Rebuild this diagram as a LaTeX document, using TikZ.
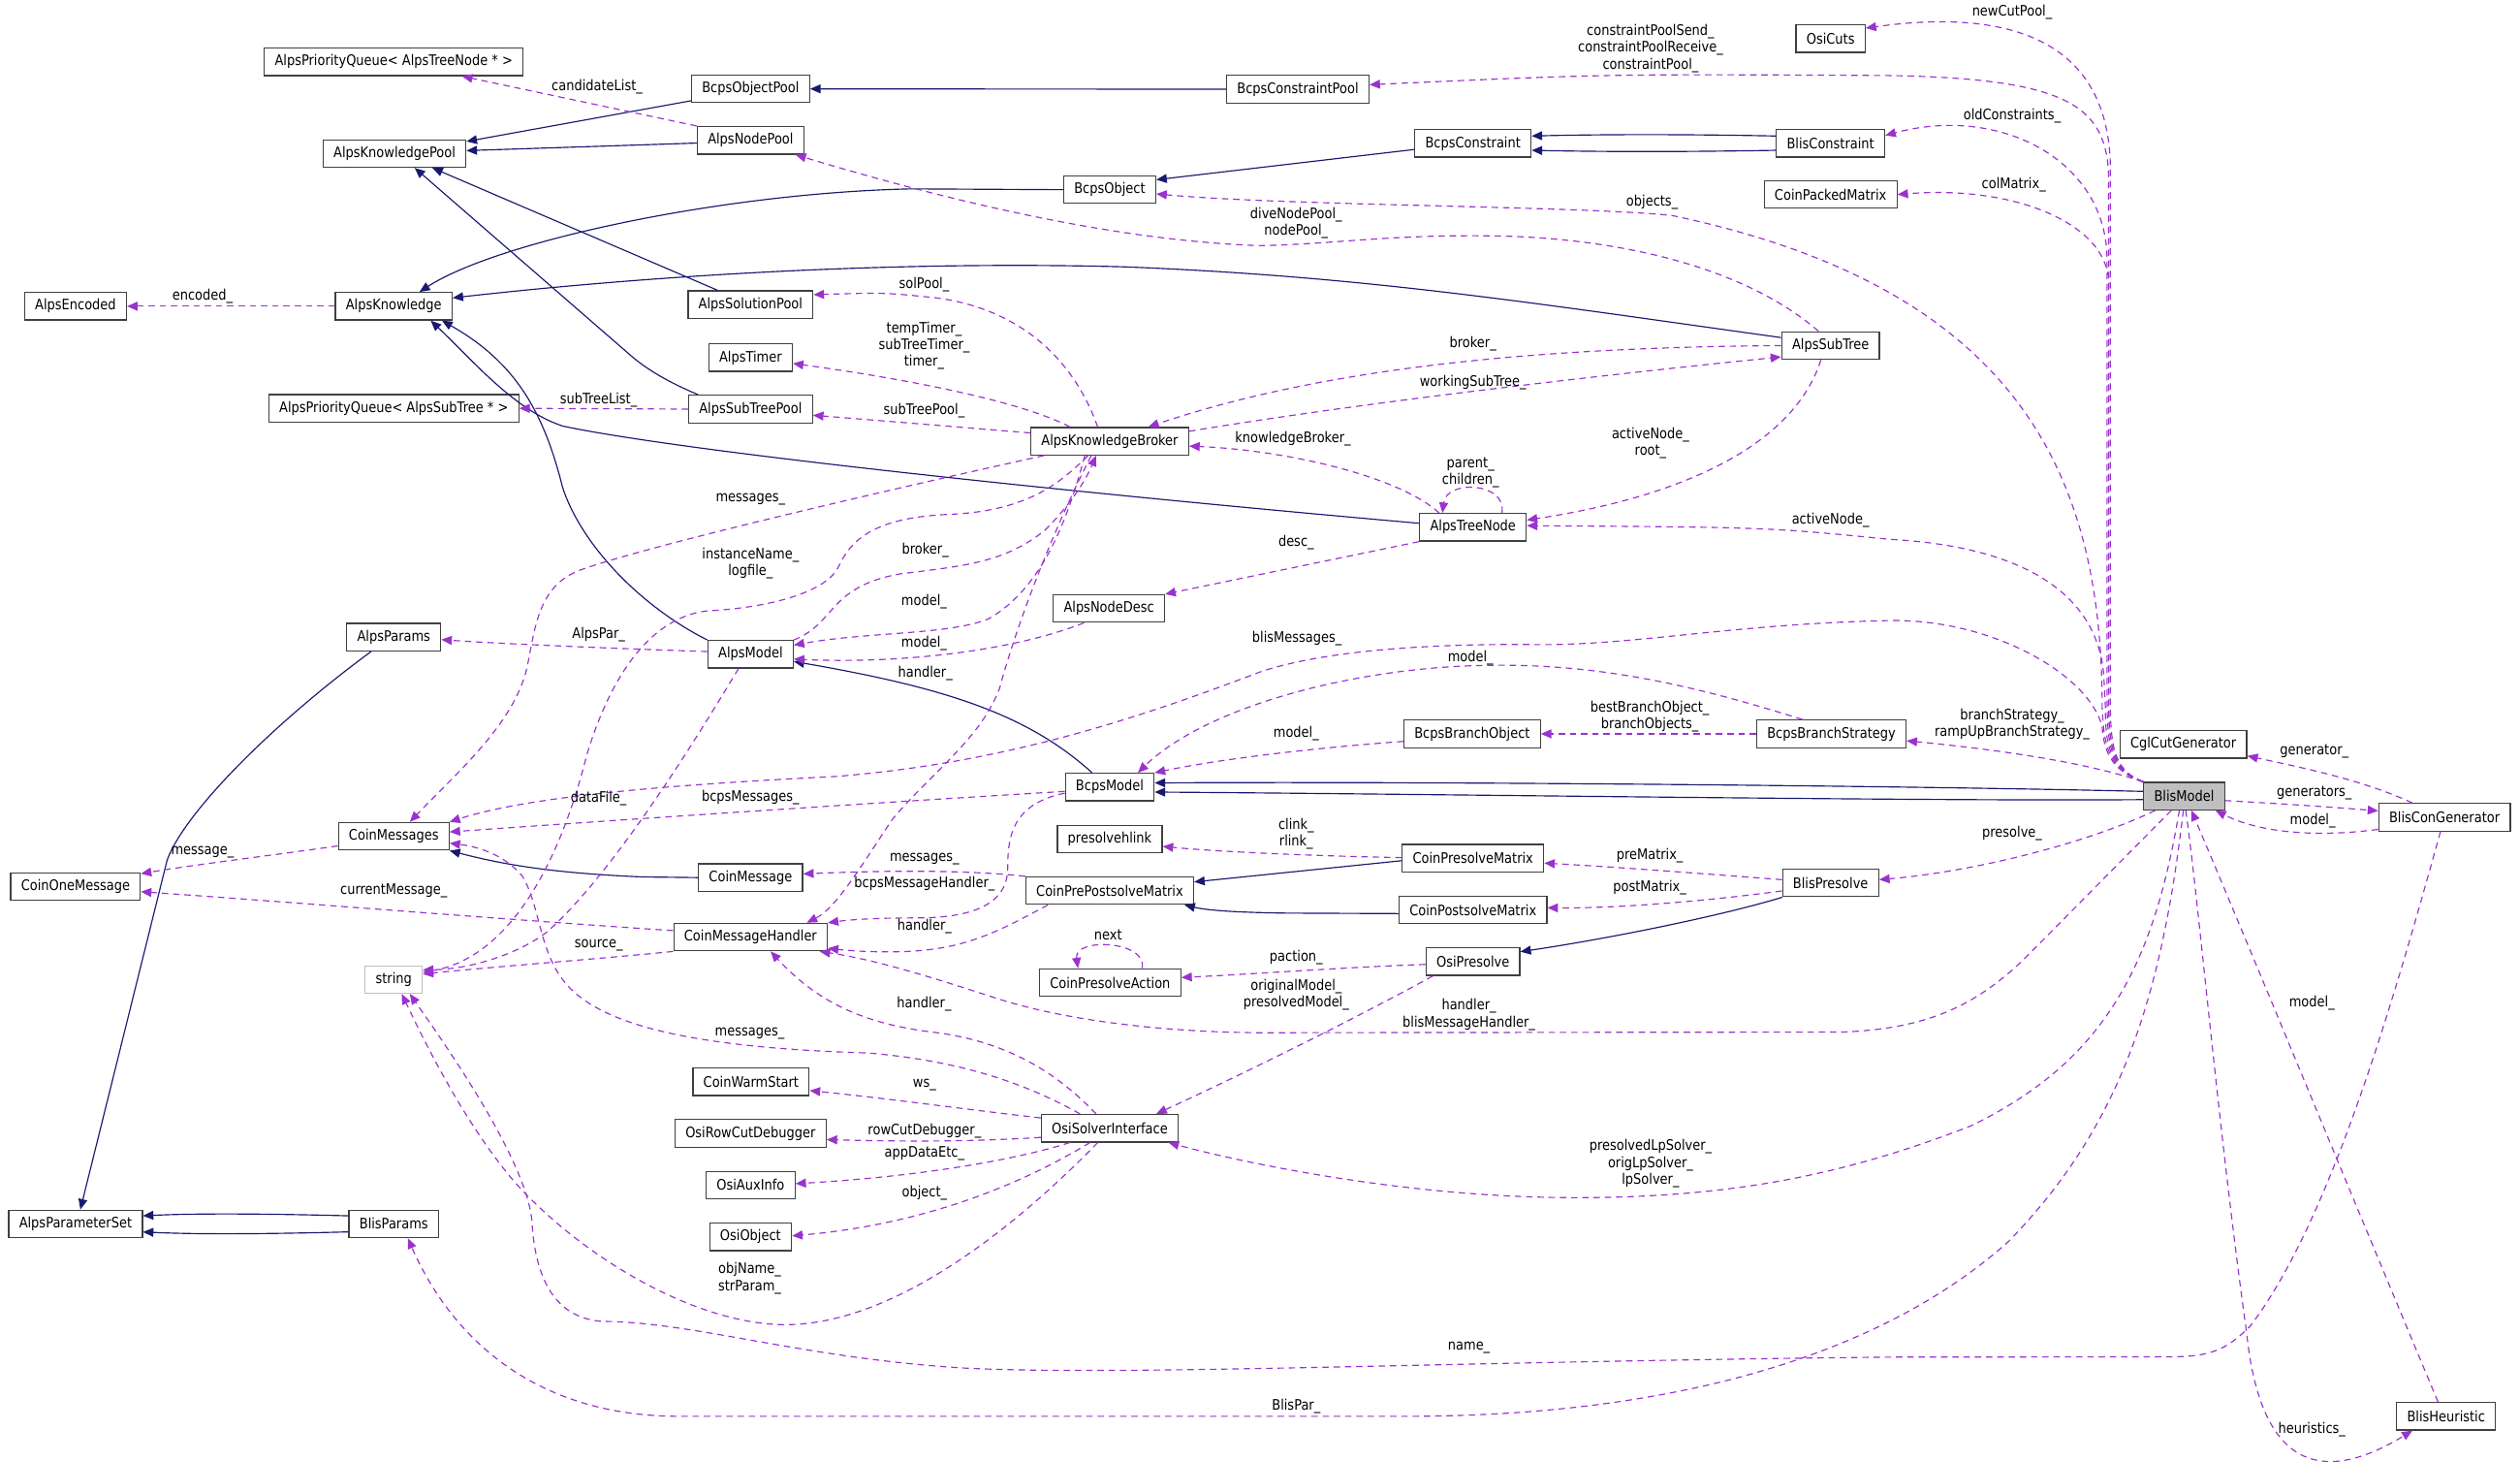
\documentclass[tikz,border=0pt]{standalone}
\usepackage{fontspec}
\setmainfont{DejaVu Sans}[FakeStretch=0.87]
\usetikzlibrary{arrows.meta}
\definecolor{inhc}{HTML}{191970}
\definecolor{usec}{HTML}{9A32CD}
\tikzset{
 cls/.style={draw=black!75, line width=0.75pt, fill=white, minimum height=17.1pt, inner xsep=6.5pt, inner ysep=0pt, font=\fontsize{9}{10.4}\selectfont},
 extcls/.style={cls, draw=black!25},
 maincls/.style={cls, fill=black!25},
 lbl/.style={font=\fontsize{9}{10.4}\selectfont, align=center, inner sep=0pt},
 inherit/.style={draw=inhc, line width=0.7pt, -{Triangle[length=6.5pt,width=5.5pt]}},
 usage/.style={draw=usec, line width=0.7pt, dash pattern=on 4pt off 3pt, -{Triangle[length=6.5pt,width=5.5pt]}},
}
\begin{document}
\begin{tikzpicture}[x=1pt,y=-1pt]
\fill[white] (0,0) rectangle (1568,909);
\useasboundingbox (0,0) rectangle (1568,909);
% ---------------- nodes
\node[cls] (pqTN) at (245,38.5) {AlpsPriorityQueue< AlpsTreeNode * >};
\node[cls] (bcpsObjPool) at (467,55.3) {BcpsObjectPool};
\node[cls] (bcpsConPool) at (807.5,55.5) {BcpsConstraintPool};
\node[cls] (osiCuts) at (1139,24) {OsiCuts};
\node[cls] (akPool) at (245.5,95.5) {AlpsKnowledgePool};
\node[cls] (nodePool) at (467,87.3) {AlpsNodePool};
\node[cls] (bcpsCon) at (916.5,89.2) {BcpsConstraint};
\node[cls] (blisCon) at (1139,89.2) {BlisConstraint};
\node[cls] (bcpsObj) at (690.5,118) {BcpsObject};
\node[cls] (packed) at (1139,121) {CoinPackedMatrix};
\node[cls] (encoded) at (47,190.5) {AlpsEncoded};
\node[cls] (know) at (245,190.5) {AlpsKnowledge};
\node[cls] (solPool) at (467,189.5) {AlpsSolutionPool};
\node[cls] (timer) at (467,222.5) {AlpsTimer};
\node[cls] (subTree) at (1139,215) {AlpsSubTree};
\node[cls] (pqST) at (245,254) {AlpsPriorityQueue< AlpsSubTree * >};
\node[cls] (stPool) at (467,254.5) {AlpsSubTreePool};
\node[cls] (broker) at (690.5,274.5) {AlpsKnowledgeBroker};
\node[cls] (treeNode) at (916.5,328) {AlpsTreeNode};
\node[cls] (nodeDesc) at (690,378.5) {AlpsNodeDesc};
\node[cls] (params) at (245,396.3) {AlpsParams};
\node[cls] (model) at (467,407) {AlpsModel};
\node[cls] (brObj) at (916,456.5) {BcpsBranchObject};
\node[cls] (brStrat) at (1139.5,456.5) {BcpsBranchStrategy};
\node[cls] (cgl) at (1358.5,463) {CglCutGenerator};
\node[maincls] (blisModel) at (1359,495.2) {BlisModel};
\node[cls] (conGen) at (1521,508.4) {BlisConGenerator};
\node[cls] (bcpsModel) at (690.5,489.6) {BcpsModel};
\node[cls] (messages) at (245,520.2) {CoinMessages};
\node[cls] (hlink) at (690.5,522) {presolvehlink};
\node[cls] (oneMsg) at (47,551.5) {CoinOneMessage};
\node[cls] (coinMsg) at (467,545.9) {CoinMessage};
\node[cls] (preMat) at (916.5,533.9) {CoinPresolveMatrix};
\node[cls] (prePost) at (690.5,554) {CoinPrePostsolveMatrix};
\node[cls] (blisPre) at (1139,549.2) {BlisPresolve};
\node[cls] (postMat) at (916.5,566) {CoinPostsolveMatrix};
\node[cls] (handler) at (467,582.9) {CoinMessageHandler};
\node[extcls] (string) at (245,609.3) {string};
\node[cls] (action) at (690.75,611.2) {CoinPresolveAction};
\node[cls] (osiPre) at (916.5,598.2) {OsiPresolve};
\node[cls] (warm) at (467.3,672.9) {CoinWarmStart};
\node[cls] (osi) at (690.5,701.8) {OsiSolverInterface};
\node[cls] (rowCut) at (467,705) {OsiRowCutDebugger};
\node[cls] (aux) at (467,737.2) {OsiAuxInfo};
\node[cls] (osiObj) at (467,769.4) {OsiObject};
\node[cls] (paramSet) at (47,761.3) {AlpsParameterSet};
\node[cls] (blisParams) at (245,761.3) {BlisParams};
\node[cls] (heur) at (1522,881) {BlisHeuristic};
% ---------------- inheritance edges
\draw[inherit] ([yshift=-7.4pt]bcpsObjPool.west) -- ([yshift=7.5pt]akPool.east);
\draw[inherit] ([yshift=-1.7pt]nodePool.west) -- ([yshift=1.8pt]akPool.east);
\draw[inherit] ([xshift=-20.5pt]solPool.north) -- ([xshift=23.5pt]akPool.south);
\draw[inherit] ([xshift=-32.5pt]stPool.north) .. controls (412,236) and (400,228) .. (390,219) -- ([xshift=12.5pt]akPool.south);
\draw[inherit] (bcpsConPool.west) -- (bcpsObjPool.east);
\draw[inherit] ([yshift=-3.8pt]bcpsCon.west) -- ([yshift=6.2pt]bcpsObj.east);
\draw[inherit] ([yshift=4.6pt]blisCon.west) .. controls (1050,83.5) and (1000,83.5) .. ([yshift=4.6pt]bcpsCon.east);
\draw[inherit] ([yshift=-4.3pt]blisCon.west) .. controls (1050,94.5) and (1000,94.5) .. ([yshift=-4.3pt]bcpsCon.east);
\draw[inherit] (bcpsObj.west) -- (567,117.5) .. controls (450,120) and (310,150) .. ([xshift=16pt]know.north);
\draw[inherit] ([yshift=5pt]subTree.west) .. controls (950,188) and (850,172) .. (700,166) .. controls (550,162) and (400,172) .. ([yshift=5.2pt]know.east);
\draw[inherit] ([yshift=2.5pt]treeNode.west) .. controls (650,305) and (420,280) .. (350,265) .. controls (320,255) and (295,225) .. ([xshift=23pt]know.south);
\draw[inherit] (model.north west) .. controls (400,378) and (362,340) .. (350,303) .. controls (338,255) and (320,225) .. ([xshift=30pt]know.south);
\draw[inherit] ([xshift=-14pt]params.south) .. controls (170,450) and (115,505) .. (104,535) -- ([xshift=3pt]paramSet.north);
\draw[inherit] ([yshift=5pt]blisParams.west) .. controls (160,754.8) and (120,754.8) .. ([yshift=5pt]paramSet.east);
\draw[inherit] ([yshift=-5pt]blisParams.west) .. controls (160,767.8) and (120,767.8) .. ([yshift=-5pt]paramSet.east);
\draw[inherit] ([xshift=-11pt]bcpsModel.north) .. controls (640,445) and (590,428) .. ([yshift=-4.5pt]model.east);
\draw[inherit] ([yshift=2.9pt]blisModel.west) .. controls (1200,489) and (900,486) .. ([yshift=2.6pt]bcpsModel.east);
\draw[inherit] ([yshift=-2.2pt]blisModel.west) .. controls (1200,498.5) and (900,494) .. ([yshift=-3.1pt]bcpsModel.east);
\draw[inherit] (coinMsg.west) -- (400,545.5) .. controls (340,543) and (310,537) .. (messages.south east);
\draw[inherit] ([yshift=-1.5pt]preMat.west) -- ([yshift=5.4pt]prePost.east);
\draw[inherit] ([yshift=-2.3pt]postMat.west) -- (800,568) .. controls (765,567.5) and (750,566) .. ([xshift=46.5pt]prePost.south);
\draw[inherit] ([xshift=-30pt]blisPre.south) .. controls (1070,570) and (1000,584) .. ([yshift=6.2pt]osiPre.east);
% ---------------- usage edges
\draw[usage] (nodePool.north west) -- ([xshift=42.5pt]pqTN.south);
\draw[usage] (know.west) -- (encoded.east);
\draw[usage] (stPool.west) -- (pqST.east);
\draw[usage] ([xshift=-7.5pt]broker.north) .. controls (665,215) and (625,190) .. (580,185) .. controls (550,182) .. ([yshift=6.2pt]solPool.east);
\draw[usage] ([xshift=-24.75pt]broker.north) .. controls (640,252) and (580,238) .. ([yshift=-3.6pt]timer.east);
\draw[usage] ([yshift=5.2pt]broker.west) .. controls (600,266) and (540,261) .. ([yshift=-3.8pt]stPool.east);
% BlisModel upward bundle
\draw[usage] (blisModel.north west) .. controls (1314,479) and (1313,462) .. (1313,430) -- (1313,100) .. controls (1310,25) and (1250,5) .. ([yshift=6.5pt]osiCuts.east);
\draw[usage] (blisModel.north west) .. controls (1313,479) and (1312,462) .. (1312,430) -- (1312,110) .. controls (1311,65) and (1285,49) .. (1176,47) .. controls (1000,46) .. ([yshift=2.8pt]bcpsConPool.east);
\draw[usage] (blisModel.north west) .. controls (1312,479) and (1311,462) .. (1311,430) -- (1311,160) .. controls (1310,100) and (1245,65) .. ([yshift=5pt]blisCon.east);
\draw[usage] (blisModel.north west) .. controls (1313,479) and (1312,462) .. (1312,430) -- (1312,175) .. controls (1311,140) and (1255,115) .. (packed.east);
\draw[usage] (blisModel.north west) .. controls (1311,479) and (1309,462) .. (1308,440) .. controls (1308,300) and (1260,180) .. (1040,134) .. controls (980,128) and (800,128) .. ([yshift=-2.6pt]bcpsObj.east);
\draw[usage] (blisModel.north west) .. controls (1312,479) and (1310,462) .. (1310,440) -- (1309,420) .. controls (1305,370) and (1260,340) .. (1176,335.5) .. controls (1100,328) .. ([yshift=1pt]treeNode.east);
\draw[usage] (blisModel.north west) .. controls (1312,479) and (1309,465) .. (1308,452) .. controls (1300,420) and (1240,385) .. (1176,386) .. controls (1080,388) and (1020,401) .. (960,401) .. controls (880,400) and (820,406) .. (784,418) .. controls (700,450) and (620,475) .. (520,483) .. controls (420,488) and (330,495) .. (messages.north east);
% subtree / tree node
\draw[usage] ([xshift=-7.5pt]subTree.north) .. controls (1090,170) and (1020,150) .. (940,147) .. controls (870,145) and (830,152) .. (784,152.8) .. controls (700,150) and (600,128) .. ([xshift=28pt]nodePool.south);
\draw[usage] (subTree.west) .. controls (950,216) and (820,230) .. ([xshift=24pt]broker.north);
\draw[usage] ([yshift=6.2pt]broker.east) .. controls (850,250) and (1000,233) .. ([yshift=-7pt]subTree.west);
\draw[usage] ([xshift=-21pt]treeNode.north) .. controls (870,296) and (800,280) .. ([yshift=-3pt]broker.east);
\draw[usage] ([xshift=18pt]treeNode.north) .. controls (938,300) and (900,298) .. ([xshift=-19pt]treeNode.north);
\draw[usage] ([xshift=-6pt]subTree.south) .. controls (1115,280) and (1040,310) .. ([yshift=4.5pt]treeNode.east);
\draw[usage] (treeNode.south west) -- (nodeDesc.north east);
% branching
\draw[usage] ([xshift=-18pt]brStrat.north) .. controls (1050,425) and (990,412) .. (920,414) .. controls (840,416) and (750,440) .. ([xshift=17.5pt]bcpsModel.north);
\draw[usage] ([yshift=-4.7pt]brObj.west) .. controls (820,465) and (760,472) .. (bcpsModel.north east);
\draw[usage] (brStrat.west) -- (brObj.east);
\draw[usage] (blisModel.north west) .. controls (1300,475) and (1250,467) .. ([yshift=-4.3pt]brStrat.east);
\draw[usage] ([xshift=-20pt]conGen.north) .. controls (1470,485) and (1430,477) .. ([yshift=-7.2pt]cgl.east);
\draw[usage] ([yshift=-2.8pt]blisModel.east) .. controls (1420,500) and (1450,502) .. ([yshift=4pt]conGen.west);
\draw[usage] ([yshift=-7.5pt]conGen.west) .. controls (1450,520) and (1410,520) .. ([xshift=19.5pt]blisModel.south);
% presolve
\draw[usage] ([xshift=-18pt]blisModel.south) .. controls (1300,524) and (1230,542) .. ([yshift=2pt]blisPre.east);
\draw[usage] ([yshift=2pt]blisPre.west) .. controls (1040,542) and (1000,539) .. ([yshift=-3pt]preMat.east);
\draw[usage] ([yshift=-5pt]blisPre.west) .. controls (1050,562) and (1000,565) .. ([yshift=1.3pt]postMat.east);
\draw[usage] ([yshift=0.4pt]preMat.west) .. controls (820,532.5) and (760,530) .. ([yshift=-4.5pt]hlink.east);
\draw[usage] ([yshift=-1.7pt]osiPre.west) .. controls (830,602) and (780,606) .. ([yshift=3.2pt]action.east);
\draw[usage] ([xshift=20pt]action.north) .. controls (714,585) and (668,583) .. ([xshift=-20pt]action.north);
\draw[usage] ([xshift=-25pt]osiPre.south) .. controls (850,630) and (780,665) .. ([xshift=29pt]osi.north);
% BlisModel downward
\draw[usage] ([xshift=-8pt]blisModel.south) -- (1260,596) .. controls (1230,625) and (1200,640) .. (1146,642) -- (784,642.4) .. controls (720,642) and (660,634) .. (620,621) .. controls (580,608) and (545,597) .. ([xshift=43pt]handler.south);
\draw[usage] ([xshift=-3pt]blisModel.south) .. controls (1340,600) and (1310,660) .. (1226,700.5) .. controls (1150,730) and (1080,745) .. (980,745) .. controls (880,745) and (780,725) .. ([xshift=36.5pt]osi.south);
\draw[usage] ([xshift=-0.5pt]blisModel.south) .. controls (1345,620) and (1320,700) .. (1250,772) .. controls (1180,835) and (1060,880) .. (880,881) -- (420,881) .. controls (330,880) and (280,830) .. ([xshift=8.75pt]blisParams.south);
\draw[usage] ([xshift=1pt]blisModel.south) .. controls (1368,560) and (1380,700) .. (1398,830) .. controls (1408,925) and (1455,918) .. ([xshift=-21pt]heur.south);
\draw[usage] ([xshift=-5pt]heur.north) .. controls (1470,760) and (1400,590) .. ([xshift=4.5pt]blisModel.south);
\draw[usage] ([xshift=-2.5pt]conGen.south) .. controls (1490,620) and (1450,760) .. (1400,825) .. controls (1385,840) and (1375,844) .. (1350,844) -- (1176,844.2) .. controls (900,847) and (700,856) .. (600,851) .. controls (500,845) and (430,822) .. (375,822) .. controls (345,820) and (333,795) .. (331,760) .. controls (328,720) and (270,640) .. ([xshift=10pt]string.south);
% OsiSolverInterface
\draw[usage] ([xshift=-7.5pt]osi.south) .. controls (640,755) and (560,825) .. (487,824) .. controls (430,823) and (360,780) .. (320,735) .. controls (290,700) and (265,650) .. ([xshift=5pt]string.south);
\draw[usage] ([xshift=-8.5pt]osi.north) .. controls (660,670) and (630,648) .. (580,642) .. controls (540,637) and (510,625) .. ([xshift=12.5pt]handler.south);
\draw[usage] ([xshift=-18.5pt]osi.north) .. controls (640,675) and (600,660) .. (540,655) .. controls (440,652) and (380,640) .. (355,615) .. controls (335,595) and (337,565) .. (325,545) .. controls (315,533) and (300,527) .. ([yshift=-4.3pt]messages.east);
\draw[usage] ([yshift=6.4pt]osi.west) .. controls (600,690) and (550,683) .. ([yshift=-5.5pt]warm.east);
\draw[usage] ([yshift=-5.7pt]osi.west) .. controls (600,710.5) and (560,710) .. ([yshift=-3.9pt]rowCut.east);
\draw[usage] ([xshift=-24.75pt]osi.south) .. controls (630,722) and (570,732) .. ([yshift=0.9pt]aux.east);
\draw[usage] ([xshift=-12.25pt]osi.south) .. controls (630,740) and (570,762) .. ([yshift=0.6pt]osiObj.east);
% messages / handler / string
\draw[usage] (handler.south west) .. controls (390,595) and (300,602) .. ([yshift=3.4pt]string.east);
\draw[usage] ([xshift=-7.5pt]model.south) .. controls (430,465) and (380,545) .. (340,580) .. controls (320,595) and (290,603) .. ([yshift=6pt]string.east);
\draw[usage] ([xshift=-13.5pt]broker.south) .. controls (660,300) and (640,318) .. (590,320) .. controls (545,322) and (530,335) .. (522,352) .. controls (515,368) and (480,378) .. (440,380) .. controls (405,384) and (380,420) .. (365,470) .. controls (350,530) and (320,595) .. ([yshift=4.5pt]string.east);
\draw[usage] ([xshift=-41pt]broker.south) .. controls (560,303) and (400,340) .. (360,355) .. controls (335,365) and (333,390) .. (328,415) .. controls (320,450) and (285,480) .. ([xshift=10pt]messages.north);
\draw[usage] (model.north east) .. controls (520,388) and (515,365) .. (560,357) .. controls (600,352) and (625,350) .. (650,330) .. controls (665,315) and (675,300) .. ([xshift=-8.5pt]broker.south);
\draw[usage] ([xshift=-15.5pt]broker.south) .. controls (665,320) and (650,365) .. (615,385) .. controls (590,395) and (540,393) .. ([yshift=5.7pt]model.east);
\draw[usage] ([xshift=-11.5pt]broker.south) .. controls (660,320) and (635,380) .. (622,428) .. controls (610,460) and (580,480) .. (555,510) .. controls (535,540) and (520,565) .. ([xshift=35pt]handler.north);
\draw[usage] ([xshift=-15.5pt]nodeDesc.south) .. controls (630,405) and (560,413) .. ([yshift=-3pt]model.east);
\draw[usage] ([yshift=1.7pt]model.west) .. controls (400,404) and (320,401) .. ([yshift=-1.6pt]params.east);
\draw[usage] ([yshift=-2.7pt]bcpsModel.west) .. controls (550,499) and (400,509) .. ([yshift=2.7pt]messages.east);
\draw[usage] ([yshift=-3.8pt]bcpsModel.west) .. controls (630,500) and (627,520) .. (627,540) .. controls (627,565) and (600,571) .. (570,571) .. controls (545,571) and (530,572) .. (handler.north east);
\draw[usage] (prePost.north west) .. controls (600,541) and (550,541.5) .. ([yshift=2.3pt]coinMsg.east);
\draw[usage] ([xshift=-38.5pt]prePost.south) .. controls (620,580) and (600,591) .. (560,592) .. controls (540,592.5) and (525,591) .. ([yshift=-7pt]handler.east);
\draw[usage] ([yshift=-6pt]messages.west) .. controls (170,532) and (120,538) .. ([yshift=8pt]oneMsg.east);
\draw[usage] ([yshift=4pt]handler.west) .. controls (300,571) and (180,561) .. ([yshift=-3.2pt]oneMsg.east);
% ---------------- edge labels
\node[lbl] (l01) at (371.5,54.3) {candidateList\_};
\node[lbl] (l02) at (126,184.5) {encoded\_};
\node[lbl] (l03) at (372.4,248.6) {subTreeList\_};
\node[lbl] (l04) at (575,177.3) {solPool\_};
\node[lbl] (l05) at (575,215) {tempTimer\_\\subTreeTimer\_\\timer\_};
\node[lbl] (l06) at (575,255.3) {subTreePool\_};
\node[lbl] (l07) at (1027,30.2) {constraintPoolSend\_\\constraintPoolReceive\_\\constraintPool\_};
\node[lbl] (l08) at (1252,7.4) {newCutPool\_};
\node[lbl] (l09) at (1252,72.4) {oldConstraints\_};
\node[lbl] (l10) at (1253,115.2) {colMatrix\_};
\node[lbl] (l11) at (1028,125.6) {objects\_};
\node[lbl] (l12) at (806.5,138.6) {diveNodePool\_\\nodePool\_};
\node[lbl] (l13) at (916.5,214) {broker\_};
\node[lbl] (l14) at (916.5,237.8) {workingSubTree\_};
\node[lbl] (l15) at (804.5,272.8) {knowledgeBroker\_};
\node[lbl] (l16) at (915,293.8) {parent\_\\children\_};
\node[lbl] (l17) at (1027,275.7) {activeNode\_\\root\_};
\node[lbl] (l18) at (1139,323.5) {activeNode\_};
\node[lbl] (l19) at (806.5,337.2) {desc\_};
\node[lbl] (l20) at (467,310.4) {messages\_};
\node[lbl] (l21) at (467,350.6) {instanceName\_\\logfile\_};
\node[lbl] (l22) at (575.75,342) {broker\_};
\node[lbl] (l23) at (575,374.2) {model\_};
\node[lbl] (l24) at (575,399.9) {model\_};
\node[lbl] (l25) at (575.75,419) {handler\_};
\node[lbl] (l26) at (372.5,394.5) {AlpsPar\_};
\node[lbl] (l27) at (807,397) {blisMessages\_};
\node[lbl] (l28) at (915,409) {model\_};
\node[lbl] (l29) at (806.5,456.2) {model\_};
\node[lbl] (l30) at (1026.5,445.6) {bestBranchObject\_\\branchObjects\_};
\node[lbl] (l31) at (1252,450.5) {branchStrategy\_\\rampUpBranchStrategy\_};
\node[lbl] (l32) at (1440,467.2) {generator\_};
\node[lbl] (l33) at (1440,493.4) {generators\_};
\node[lbl] (l34) at (1439,510.4) {model\_};
\node[lbl] (l35) at (1252,518.5) {presolve\_};
\node[lbl] (l36) at (372.5,496.4) {dataFile\_};
\node[lbl] (l37) at (467,496) {bcpsMessages\_};
\node[lbl] (l38) at (126,530) {message\_};
\node[lbl] (l39) at (806.5,518.5) {clink\_\\rlink\_};
\node[lbl] (l40) at (1026.5,532.1) {preMatrix\_};
\node[lbl] (l41) at (575.25,534.6) {messages\_};
\node[lbl] (l42) at (575.25,550) {bcpsMessageHandler\_};
\node[lbl] (l43) at (1026.5,552) {postMatrix\_};
\node[lbl] (l44) at (245,554.1) {currentMessage\_};
\node[lbl] (l45) at (575.25,576.2) {handler\_};
\node[lbl] (l46) at (689.5,581.8) {next};
\node[lbl] (l47) at (372.5,587.8) {source\_};
\node[lbl] (l48) at (806.5,595.5) {paction\_};
\node[lbl] (l49) at (806.5,619) {originalModel\_\\presolvedModel\_};
\node[lbl] (l50) at (575,624.7) {handler\_};
\node[lbl] (l51) at (1438.5,624) {model\_};
\node[lbl] (l52) at (914,631.2) {handler\_\\blisMessageHandler\_};
\node[lbl] (l53) at (466.5,643.2) {messages\_};
\node[lbl] (l54) at (575.25,675) {ws\_};
\node[lbl] (l55) at (575.25,703.5) {rowCutDebugger\_};
\node[lbl] (l56) at (1027,723.8) {presolvedLpSolver\_\\origLpSolver\_\\lpSolver\_};
\node[lbl] (l57) at (575.25,717.6) {appDataEtc\_};
\node[lbl] (l58) at (575.25,742) {object\_};
\node[lbl] (l59) at (466.5,795.2) {objName\_\\strParam\_};
\node[lbl] (l60) at (914,838.2) {name\_};
\node[lbl] (l61) at (806.5,875) {BlisPar\_};
\node[lbl] (l62) at (1438.5,889) {heuristics\_};
\end{tikzpicture}
\end{document}
